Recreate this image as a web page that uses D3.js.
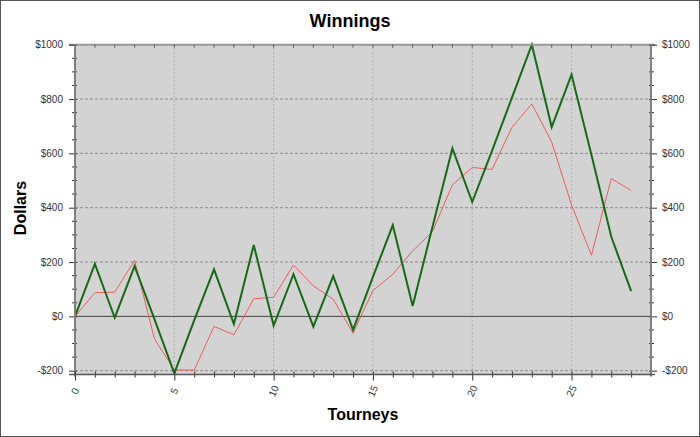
<!DOCTYPE html>
<html>
<head>
<meta charset="utf-8">
<script src="https://cdn.jsdelivr.net/npm/d3@7"></script>
<style>
  html, body { margin: 0; padding: 0; background: #fff; }
  svg { display: block; font-family: "Liberation Sans", Arial, sans-serif; }
</style>
</head>
<body>
<div id="chart"></div>
<script>
// Winnings per tourney, two series
const tourneys = d3.range(0, 29);
const totalWinnings = [0, 193, -5, 185, -10, -210, -15, 173, -28, 263, -34, 155, -38, 148, -50, 145,
  336, 38, 330, 618, 421, 610, 805, 1000, 697, 890, 595, 293, 93];
const averageWinnings = [0, 87, 89, 206, -83, -197, -198, -37, -68, 65, 70, 189, 112, 63, -62, 95,
  155, 241, 312, 484, 548, 541, 696, 782, 642, 410, 225, 507, 464];
const yMajorTicks = [-200, 0, 200, 400, 600, 800, 1000];
const yMinorTicks = d3.range(-200, 1001, 50).filter((v) => v % 200 !== 0);
const xMajorTicks = [0, 5, 10, 15, 20, 25];

const width = 700;
const height = 437;
const plot = { left: 75, right: 651, top: 44.7, bottom: 370.7, axisY: 374.5 };

const svg = d3.select("#chart")
  .append("svg")
  .attr("width", width)
  .attr("height", height);

svg.append("rect")
  .attr("x", 0.5).attr("y", 0.5)
  .attr("width", width - 1).attr("height", height - 1)
  .attr("fill", "#fff")
  .attr("stroke", "#555");

const x = d3.scaleLinear().domain([0, 29]).range([plot.left, plot.right]);
const y = d3.scaleLinear().domain([-200, 1000]).range([plot.bottom, plot.top]);

// plot background
svg.append("rect")
  .attr("x", plot.left)
  .attr("y", plot.top)
  .attr("width", plot.right - plot.left)
  .attr("height", plot.axisY - plot.top)
  .attr("fill", "#d3d3d3");

// grid
const grid = svg.append("g");
grid.selectAll(".hgrid")
  .data(yMajorTicks.filter((v) => v !== 0 && v !== 1000))
  .join("line")
  .attr("x1", plot.left).attr("x2", plot.right)
  .attr("y1", (d) => y(d)).attr("y2", (d) => y(d))
  .attr("stroke", "#777")
  .attr("stroke-width", 0.8)
  .attr("stroke-dasharray", "3,2");

grid.selectAll(".vgrid")
  .data(xMajorTicks.filter((v) => v !== 0))
  .join("line")
  .attr("x1", (d) => x(d)).attr("x2", (d) => x(d))
  .attr("y1", plot.top).attr("y2", plot.axisY)
  .attr("stroke", "#777")
  .attr("stroke-width", 0.8)
  .attr("stroke-dasharray", "1,3");

grid.append("line")
  .attr("x1", plot.left).attr("x2", plot.right)
  .attr("y1", y(0)).attr("y2", y(0))
  .attr("stroke", "#444")
  .attr("stroke-width", 1);

// series
const line = (values) => d3.line()
  .x((d, i) => x(tourneys[i]))
  .y((d) => y(d))(values);

svg.append("path")
  .attr("d", line(averageWinnings))
  .attr("fill", "none")
  .attr("stroke", "#f05a5a")
  .attr("stroke-width", 1);

svg.append("path")
  .attr("d", line(totalWinnings))
  .attr("fill", "none")
  .attr("stroke", "#156b15")
  .attr("stroke-width", 2);

// frame lines
const axisColor = "#808080";
svg.append("line")
  .attr("x1", plot.left - 6).attr("x2", plot.right + 4)
  .attr("y1", plot.top).attr("y2", plot.top)
  .attr("stroke", "#999").attr("stroke-width", 2);

// left axis
const leftAxis = svg.append("g")
  .attr("transform", `translate(${plot.left},0)`)
  .call(d3.axisLeft(y).tickValues(yMajorTicks).tickSize(6).tickPadding(6)
    .tickFormat((d) => (d < 0 ? "-$" + -d : "$" + d)));
leftAxis.select(".domain").remove();
leftAxis.selectAll(".tick line").attr("x1", 2).attr("stroke", "#333");
leftAxis.selectAll(".tick text").attr("fill", "#333").style("font-size", "10px");
svg.append("g")
  .attr("transform", `translate(${plot.left},0)`)
  .selectAll("line")
  .data(yMinorTicks)
  .join("line")
  .attr("x1", -3).attr("x2", 2)
  .attr("y1", (d) => y(d)).attr("y2", (d) => y(d))
  .attr("stroke", "#333");
svg.append("line")
  .attr("x1", plot.left).attr("x2", plot.left)
  .attr("y1", plot.top).attr("y2", plot.axisY + 2)
  .attr("stroke", axisColor).attr("stroke-width", 2);

// right axis
const rightAxis = svg.append("g")
  .attr("transform", `translate(${plot.right},0)`)
  .call(d3.axisRight(y).tickValues(yMajorTicks).tickSize(6).tickPadding(5)
    .tickFormat((d) => (d < 0 ? "-$" + -d : "$" + d)));
rightAxis.select(".domain").remove();
rightAxis.selectAll(".tick line").attr("x1", -2).attr("stroke", "#333");
rightAxis.selectAll(".tick text").attr("fill", "#333").style("font-size", "10px");
svg.append("g")
  .attr("transform", `translate(${plot.right},0)`)
  .selectAll("line")
  .data(yMinorTicks)
  .join("line")
  .attr("x1", -2).attr("x2", 3)
  .attr("y1", (d) => y(d)).attr("y2", (d) => y(d))
  .attr("stroke", "#333");
svg.append("line")
  .attr("x1", plot.right).attr("x2", plot.right)
  .attr("y1", plot.top).attr("y2", plot.axisY + 2)
  .attr("stroke", axisColor).attr("stroke-width", 2);

// top ticks
svg.append("g")
  .selectAll("line")
  .data(tourneys.slice(1))
  .join("line")
  .attr("x1", (d) => x(d)).attr("x2", (d) => x(d))
  .attr("y1", plot.top).attr("y2", plot.top + 3)
  .attr("stroke", "#555");

// bottom axis
const bottomAxis = svg.append("g")
  .attr("transform", `translate(0,${plot.axisY})`)
  .call(d3.axisBottom(x).tickValues(tourneys).tickSize(4).tickFormat(""));
bottomAxis.select(".domain").remove();
bottomAxis.selectAll(".tick line")
  .attr("y1", -3)
  .attr("y2", (d) => (d % 5 === 0 ? 6 : 3))
  .attr("stroke", "#333");
svg.append("line")
  .attr("x1", plot.left - 6).attr("x2", plot.right + 4)
  .attr("y1", plot.axisY).attr("y2", plot.axisY)
  .attr("stroke", "#555").attr("stroke-width", 1.5);

svg.append("g")
  .selectAll("text")
  .data(xMajorTicks)
  .join("text")
  .attr("transform", (d) => `translate(${x(d)},391) rotate(-65)`)
  .attr("text-anchor", "middle")
  .attr("dy", "0.35em")
  .attr("fill", "#333")
  .style("font-size", "10px")
  .text((d) => d);

// titles
svg.append("text")
  .attr("x", width / 2).attr("y", 27)
  .attr("text-anchor", "middle")
  .style("font-size", "18px").style("font-weight", "bold")
  .text("Winnings");

svg.append("text")
  .attr("x", 363).attr("y", 420)
  .attr("text-anchor", "middle")
  .style("font-size", "16px").style("font-weight", "bold")
  .text("Tourneys");

svg.append("text")
  .attr("transform", "translate(26,208) rotate(-90)")
  .attr("text-anchor", "middle")
  .style("font-size", "16px").style("font-weight", "bold")
  .text("Dollars");
</script>
</body>
</html>
